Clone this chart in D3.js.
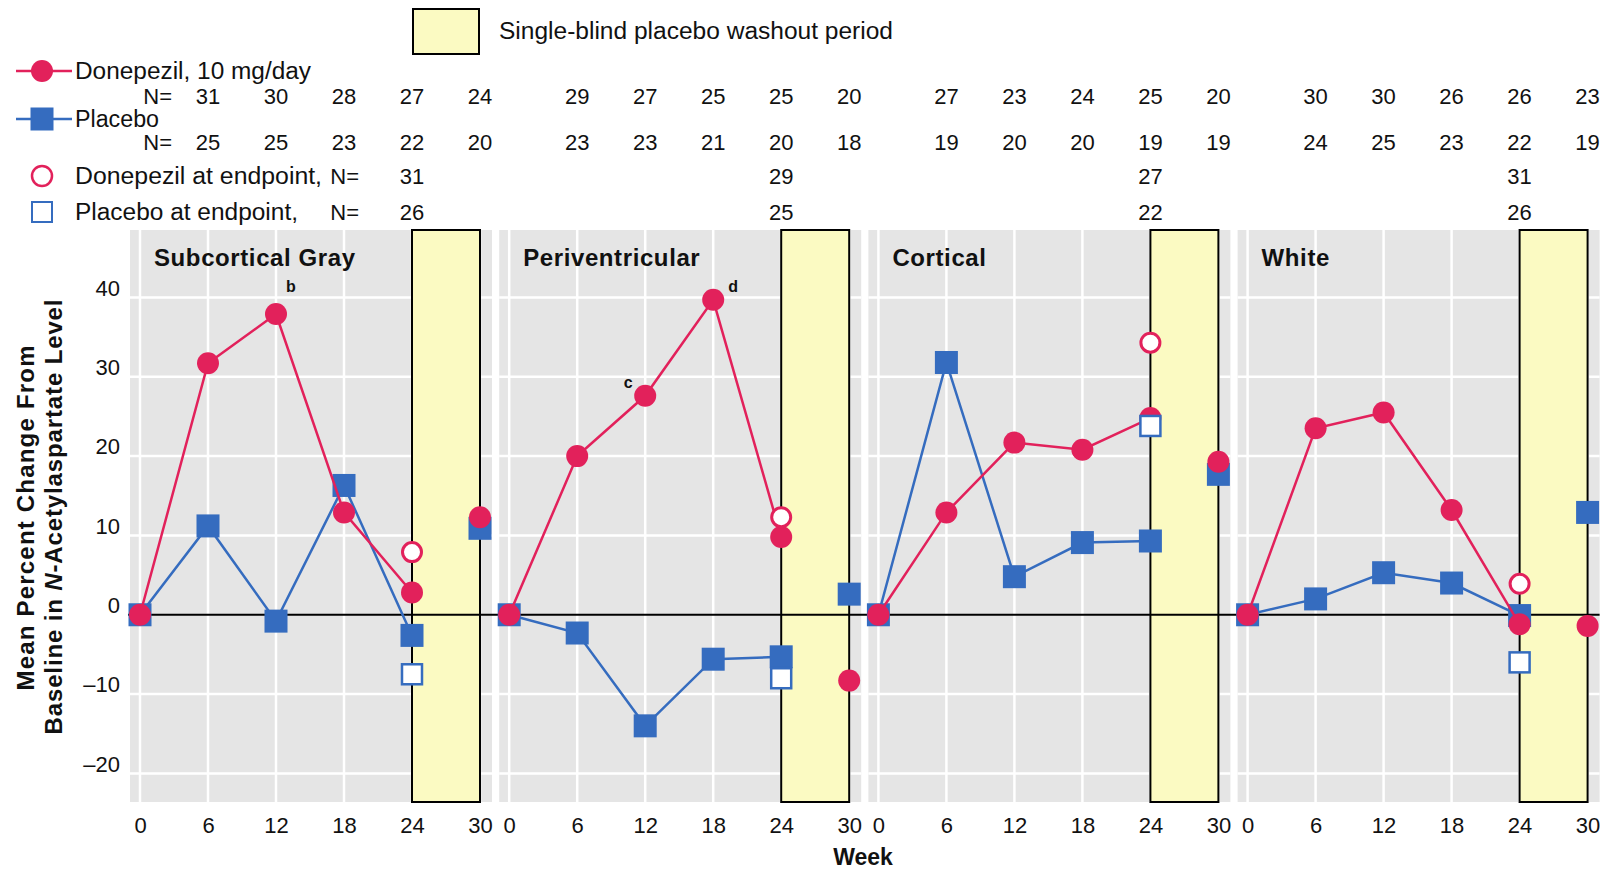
<!DOCTYPE html>
<html><head><meta charset="utf-8">
<script src="https://cdn.jsdelivr.net/npm/d3@7"></script>
<style>
html,body{margin:0;padding:0;background:#fff;}
svg{display:block;}
text{font-family:"Liberation Sans",Arial,sans-serif;fill:#111;}
</style></head>
<body>
<svg id="chart" width="1614" height="869"></svg>
<script>
// ---------------- data ----------------
const panelNames = ["Subcortical Gray", "Periventricular", "Cortical", "White"];
const weeks = [0, 6, 12, 18, 24, 30];
const yTicks = [-20, -10, 0, 10, 20, 30, 40];
const nWeeks = [6, 12, 18, 24, 30];

const donepezilSubcortical = [0, 31.7, 37.9, 12.9, 2.8, 12.3];
const donepezilPeriventricular = [0, 20.0, 27.6, 39.7, 9.8, -8.3];
const donepezilCortical = [0, 12.9, 21.7, 20.8, 24.8, 19.3];
const donepezilWhite = [0, 23.5, 25.5, 13.2, -1.2, -1.4];

const placeboSubcortical = [0, 11.2, -0.8, 16.3, -2.6, 10.9];
const placeboPeriventricular = [0, -2.3, -14.0, -5.6, -5.3, 2.6];
const placeboCortical = [0, 31.8, 4.8, 9.1, 9.3, 17.7];
const placeboWhite = [0, 2.0, 5.3, 4.0, -0.1, 12.9];

const donepezilEndpoint = [7.9, 12.3, 34.3, 3.9];
const placeboEndpoint = [-7.5, -8.0, 23.8, -6.0];

const donepezilN = [[31, 30, 28, 27, 24], [29, 27, 25, 25, 20], [27, 23, 24, 25, 20], [30, 30, 26, 26, 23]];
const placeboN = [[25, 25, 23, 22, 20], [23, 23, 21, 20, 18], [19, 20, 20, 19, 19], [24, 25, 23, 22, 19]];
const donepezilEndpointN = [31, 29, 27, 31];
const placeboEndpointN = [26, 25, 22, 26];

const footnotes = [
  {panel: 0, week: 12, label: "b", dx: 15, dy: -22},
  {panel: 1, week: 12, label: "c", dx: -17, dy: -8},
  {panel: 1, week: 18, label: "d", dx: 20, dy: -8}
];

const donepezilSeries = [donepezilSubcortical, donepezilPeriventricular, donepezilCortical, donepezilWhite];
const placeboSeries = [placeboSubcortical, placeboPeriventricular, placeboCortical, placeboWhite];

// ---------------- layout ----------------
const RED = "#E2215B", BLUE = "#356CBF", GRAY = "#E5E5E5", YELLOW = "#FBFAC2";
const svg = d3.select("#chart");
const plotTop = 230, plotBottom = 802;
const y = d3.scaleLinear().domain([-23.6, 48.5]).range([plotBottom, plotTop]);
const x = d3.scaleLinear().domain([0, 30]).range([0, 340]);
const panelScale = d3.scaleLinear().domain([0, 3]).range([140, 1247.6]);
const padL = 10, padR = 12;

// Panels
panelNames.forEach((name, i) => {
  const g = svg.append("g").attr("transform", `translate(${panelScale(i)},0)`);
  g.append("rect").attr("x", -padL).attr("y", plotTop)
    .attr("width", x(30) + padL + padR).attr("height", plotBottom - plotTop).attr("fill", GRAY);
  g.selectAll("line.hg").data(yTicks.filter(t => t !== 0)).join("line")
    .attr("x1", -padL).attr("x2", x(30) + padR)
    .attr("y1", d => y(d)).attr("y2", d => y(d))
    .attr("stroke", "#fff").attr("stroke-width", 2.5);
  g.selectAll("line.vg").data(weeks).join("line")
    .attr("x1", d => x(d)).attr("x2", d => x(d))
    .attr("y1", plotTop).attr("y2", plotBottom)
    .attr("stroke", "#fff").attr("stroke-width", 2.5);
  g.append("rect").attr("x", x(24)).attr("y", plotTop)
    .attr("width", x(30) - x(24)).attr("height", plotBottom - plotTop)
    .attr("fill", YELLOW).attr("stroke", "#000").attr("stroke-width", 2);
  g.append("text").attr("x", 14).attr("y", 266)
    .attr("font-size", 24).attr("font-weight", "bold").attr("letter-spacing", 0.6)
    .text(name);
  const ax = g.append("g").attr("transform", `translate(0,${plotBottom + 12})`)
    .call(d3.axisBottom(x).tickValues(weeks).tickSize(0).tickFormat(d3.format("d")));
  ax.select(".domain").remove();
  ax.selectAll("text").attr("font-size", 22).attr("font-family", '"Liberation Sans",Arial,sans-serif').attr("fill", "#111");
});

// y axis
const ay = svg.append("g").attr("transform", `translate(122,0)`)
  .call(d3.axisLeft(y).tickValues(yTicks).tickSize(0).tickFormat(d => d < 0 ? "\u2013" + Math.abs(d) : d));
ay.select(".domain").remove();
ay.selectAll("text").attr("font-size", 22).attr("dy", "-0.1em").attr("x", -2)
  .attr("font-family", '"Liberation Sans",Arial,sans-serif').attr("fill", "#111");

// zero line across all panels
svg.append("line").attr("x1", panelScale(0) - 12).attr("x2", panelScale(3) + x(30) + padR)
  .attr("y1", y(0)).attr("y2", y(0)).attr("stroke", "#000").attr("stroke-width", 2);

// data
const lineGen = d3.line().x(d => x(d[0])).y(d => y(d[1]));
panelNames.forEach((name, i) => {
  const g = svg.append("g").attr("transform", `translate(${panelScale(i)},0)`);
  const pl = weeks.map((w, k) => [w, placeboSeries[i][k]]);
  const dp = weeks.map((w, k) => [w, donepezilSeries[i][k]]);
  g.append("path").attr("d", lineGen(pl.slice(0, 5))).attr("fill", "none").attr("stroke", BLUE).attr("stroke-width", 2.5);
  g.selectAll("rect.pl").data(pl).join("rect")
    .attr("x", d => x(d[0]) - 11.5).attr("y", d => y(d[1]) - 11.5)
    .attr("width", 23).attr("height", 23).attr("fill", BLUE);
  g.append("path").attr("d", lineGen(dp.slice(0, 5))).attr("fill", "none").attr("stroke", RED).attr("stroke-width", 2.5);
  g.selectAll("circle.dp").data(dp).join("circle")
    .attr("cx", d => x(d[0])).attr("cy", d => y(d[1])).attr("r", 11).attr("fill", RED);
  g.append("rect").attr("x", x(24) - 10).attr("y", y(placeboEndpoint[i]) - 10)
    .attr("width", 20).attr("height", 20).attr("fill", "#fff").attr("stroke", BLUE).attr("stroke-width", 2.5);
  g.append("circle").attr("cx", x(24)).attr("cy", y(donepezilEndpoint[i])).attr("r", 9.5)
    .attr("fill", "#fff").attr("stroke", RED).attr("stroke-width", 3);
  g.selectAll("text.dn").data(donepezilN[i]).join("text")
    .attr("x", (d, k) => x(nWeeks[k])).attr("y", 96).attr("dy", "0.35em")
    .attr("text-anchor", "middle").attr("font-size", 22).text(d => d);
  g.selectAll("text.pn").data(placeboN[i]).join("text")
    .attr("x", (d, k) => x(nWeeks[k])).attr("y", 142).attr("dy", "0.35em")
    .attr("text-anchor", "middle").attr("font-size", 22).text(d => d);
  g.append("text").attr("x", x(24)).attr("y", 176).attr("dy", "0.35em")
    .attr("text-anchor", "middle").attr("font-size", 22).text(donepezilEndpointN[i]);
  g.append("text").attr("x", x(24)).attr("y", 212).attr("dy", "0.35em")
    .attr("text-anchor", "middle").attr("font-size", 22).text(placeboEndpointN[i]);
});

// footnote letters
footnotes.forEach(f => {
  const val = donepezilSeries[f.panel][weeks.indexOf(f.week)];
  svg.append("text").attr("x", panelScale(f.panel) + x(f.week) + f.dx).attr("y", y(val) + f.dy)
    .attr("text-anchor", "middle").attr("font-size", 16).attr("font-weight", "bold").text(f.label);
});

// Legend
function legendText(xp, yp, str, len) {
  return svg.append("text").attr("x", xp).attr("y", yp).attr("dy", "0.35em").attr("font-size", 23)
    .attr("textLength", len).attr("lengthAdjust", "spacingAndGlyphs").text(str);
}
svg.append("rect").attr("x", 413).attr("y", 9).attr("width", 66).attr("height", 45)
  .attr("fill", YELLOW).attr("stroke", "#000").attr("stroke-width", 2);
legendText(499, 31, "Single-blind placebo washout period", 394);

svg.append("line").attr("x1", 16).attr("x2", 72).attr("y1", 71).attr("y2", 71).attr("stroke", RED).attr("stroke-width", 2.5);
svg.append("circle").attr("cx", 42).attr("cy", 71).attr("r", 11).attr("fill", RED);
legendText(75, 71, "Donepezil, 10 mg/day", 236);
svg.append("text").attr("x", 172).attr("y", 96).attr("dy", "0.35em").attr("text-anchor", "end").attr("font-size", 22).text("N=");

svg.append("line").attr("x1", 16).attr("x2", 72).attr("y1", 119).attr("y2", 119).attr("stroke", BLUE).attr("stroke-width", 2.5);
svg.append("rect").attr("x", 30.5).attr("y", 107.5).attr("width", 23).attr("height", 23).attr("fill", BLUE);
legendText(75, 119, "Placebo", 84);
svg.append("text").attr("x", 172).attr("y", 142).attr("dy", "0.35em").attr("text-anchor", "end").attr("font-size", 22).text("N=");

svg.append("circle").attr("cx", 42).attr("cy", 176).attr("r", 10).attr("fill", "#fff").attr("stroke", RED).attr("stroke-width", 2.5);
legendText(75, 176, "Donepezil at endpoint,", 247);
svg.append("text").attr("x", 359).attr("y", 176).attr("dy", "0.35em").attr("text-anchor", "end").attr("font-size", 22).text("N=");

svg.append("rect").attr("x", 32).attr("y", 202).attr("width", 20).attr("height", 20).attr("fill", "#fff").attr("stroke", BLUE).attr("stroke-width", 2);
legendText(75, 212, "Placebo at endpoint,", 223);
svg.append("text").attr("x", 359).attr("y", 212).attr("dy", "0.35em").attr("text-anchor", "end").attr("font-size", 22).text("N=");

// axis titles
svg.append("text").attr("x", 863).attr("y", 857).attr("dy", "0.35em").attr("text-anchor", "middle")
  .attr("font-size", 23).attr("font-weight", "bold").text("Week");

const yt = svg.append("g");
yt.append("text").attr("transform", "translate(26,518) rotate(-90)").attr("dy", "0.35em")
  .attr("text-anchor", "middle").attr("font-size", 24).attr("font-weight", "bold")
  .attr("textLength", 345).attr("lengthAdjust", "spacing")
  .text("Mean Percent Change From");
const t2 = yt.append("text").attr("transform", "translate(54,517) rotate(-90)").attr("dy", "0.35em")
  .attr("text-anchor", "middle").attr("font-size", 24).attr("font-weight", "bold")
  .attr("textLength", 435).attr("lengthAdjust", "spacing");
t2.append("tspan").text("Baseline in ");
t2.append("tspan").attr("font-style", "italic").text("N");
t2.append("tspan").text("-Acetylaspartate Level");
</script>
</body></html>
